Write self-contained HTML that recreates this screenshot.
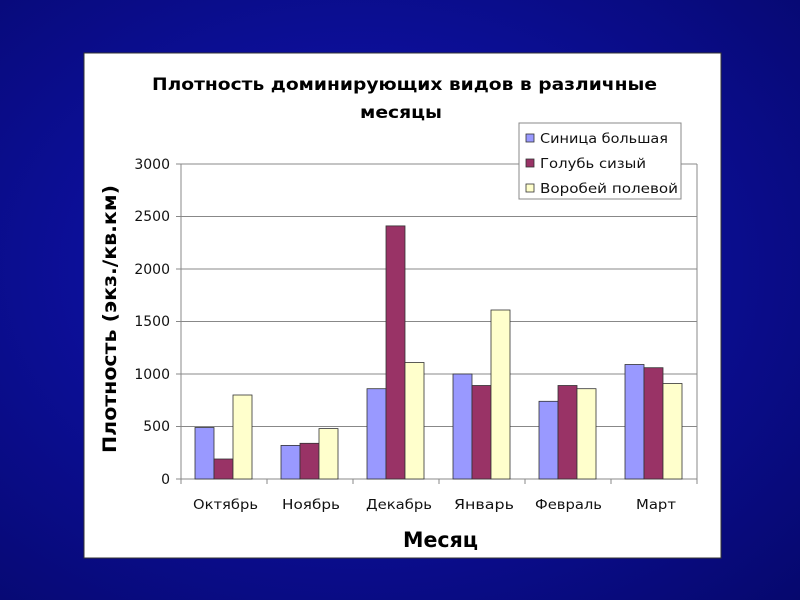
<!DOCTYPE html>
<html><head><meta charset="utf-8"><style>
html,body{margin:0;padding:0;width:800px;height:600px;overflow:hidden}
body{background:radial-gradient(ellipse at 45% 45%,#1a20b0 0%,#0c0f98 45%,#06086e 100%);}
</style></head><body>
<svg width="800" height="600" xmlns="http://www.w3.org/2000/svg" style="position:absolute;left:0;top:0;font-family:'DejaVu Sans','Liberation Sans',sans-serif">
<rect x="84" y="53" width="637" height="505" fill="#fff" stroke="#333" stroke-width="1"/>
<g stroke="#888" stroke-width="1">
<line x1="181" y1="164" x2="697" y2="164"/>
<line x1="181" y1="216.5" x2="697" y2="216.5"/>
<line x1="181" y1="269" x2="697" y2="269"/>
<line x1="181" y1="321.5" x2="697" y2="321.5"/>
<line x1="181" y1="374" x2="697" y2="374"/>
<line x1="181" y1="426.5" x2="697" y2="426.5"/>
<line x1="697" y1="164" x2="697" y2="479"/>
<line x1="181" y1="164" x2="181" y2="479"/>
<line x1="176" y1="479" x2="697" y2="479"/>
<line x1="176" y1="164" x2="181" y2="164"/><line x1="176" y1="216.5" x2="181" y2="216.5"/><line x1="176" y1="269" x2="181" y2="269"/><line x1="176" y1="321.5" x2="181" y2="321.5"/><line x1="176" y1="374" x2="181" y2="374"/><line x1="176" y1="426.5" x2="181" y2="426.5"/>
<line x1="267" y1="479" x2="267" y2="484"/><line x1="353" y1="479" x2="353" y2="484"/><line x1="439" y1="479" x2="439" y2="484"/><line x1="525" y1="479" x2="525" y2="484"/><line x1="611" y1="479" x2="611" y2="484"/><line x1="697" y1="479" x2="697" y2="484"/><line x1="181" y1="479" x2="181" y2="484"/>
</g>
<g stroke="#333" stroke-width="0.8">
<rect x="195" y="427.5" width="19" height="51.5" fill="#9999ff"/>
<rect x="214" y="459" width="19" height="20" fill="#993366"/>
<rect x="233" y="395" width="19" height="84" fill="#ffffcc"/>
<rect x="281" y="445.4" width="19" height="33.6" fill="#9999ff"/>
<rect x="300" y="443.3" width="19" height="35.7" fill="#993366"/>
<rect x="319" y="428.6" width="19" height="50.4" fill="#ffffcc"/>
<rect x="367" y="388.7" width="19" height="90.3" fill="#9999ff"/>
<rect x="386" y="225.9" width="19" height="253.1" fill="#993366"/>
<rect x="405" y="362.5" width="19" height="116.5" fill="#ffffcc"/>
<rect x="453" y="374" width="19" height="105" fill="#9999ff"/>
<rect x="472" y="385.5" width="19" height="93.5" fill="#993366"/>
<rect x="491" y="310" width="19" height="169" fill="#ffffcc"/>
<rect x="539" y="401.3" width="19" height="77.7" fill="#9999ff"/>
<rect x="558" y="385.5" width="19" height="93.5" fill="#993366"/>
<rect x="577" y="388.7" width="19" height="90.3" fill="#ffffcc"/>
<rect x="625" y="364.5" width="19" height="114.5" fill="#9999ff"/>
<rect x="644" y="367.7" width="19" height="111.3" fill="#993366"/>
<rect x="663" y="383.5" width="19" height="95.5" fill="#ffffcc"/>
</g>
<g font-size="14" fill="#111" text-anchor="end">
<text x="170" y="169">3000</text><text x="170" y="221">2500</text><text x="170" y="274">2000</text><text x="170" y="326">1500</text><text x="170" y="379">1000</text><text x="170" y="431">500</text><text x="170" y="484">0</text>
</g>
<g font-size="13.5" fill="#111">
<text x="193" y="509" textLength="65" lengthAdjust="spacingAndGlyphs">Октябрь</text>
<text x="282" y="509" textLength="58" lengthAdjust="spacingAndGlyphs">Ноябрь</text>
<text x="366" y="509" textLength="66" lengthAdjust="spacingAndGlyphs">Декабрь</text>
<text x="454" y="509" textLength="60" lengthAdjust="spacingAndGlyphs">Январь</text>
<text x="535" y="509" textLength="67" lengthAdjust="spacingAndGlyphs">Февраль</text>
<text x="636" y="509" textLength="40" lengthAdjust="spacingAndGlyphs">Март</text>
</g>
<g font-weight="bold" fill="#000" font-size="17">
<text x="152" y="90" textLength="505" lengthAdjust="spacingAndGlyphs">Плотность доминирующих  видов в различные</text>
<text x="360" y="118" textLength="82" lengthAdjust="spacingAndGlyphs">месяцы</text>
</g>
<text x="403" y="547" font-weight="bold" font-size="21" textLength="75" lengthAdjust="spacingAndGlyphs">Месяц</text>
<text transform="translate(116,453) rotate(-90)" font-weight="bold" font-size="19" textLength="268" lengthAdjust="spacingAndGlyphs">Плотность (экз./кв.км)</text>
<rect x="519" y="123" width="162" height="76" fill="#fff" stroke="#888"/>
<g stroke="#333" stroke-width="0.8">
<rect x="526" y="134" width="8" height="8" fill="#9999ff"/>
<rect x="526" y="159" width="8" height="8" fill="#993366"/>
<rect x="526" y="184" width="8" height="8" fill="#ffffcc"/>
</g>
<g font-size="13.5" fill="#111">
<text x="540" y="143" textLength="128" lengthAdjust="spacingAndGlyphs">Синица большая</text>
<text x="540" y="168" textLength="106" lengthAdjust="spacingAndGlyphs">Голубь сизый</text>
<text x="540" y="193" textLength="138" lengthAdjust="spacingAndGlyphs">Воробей полевой</text>
</g>
</svg>
</body></html>
